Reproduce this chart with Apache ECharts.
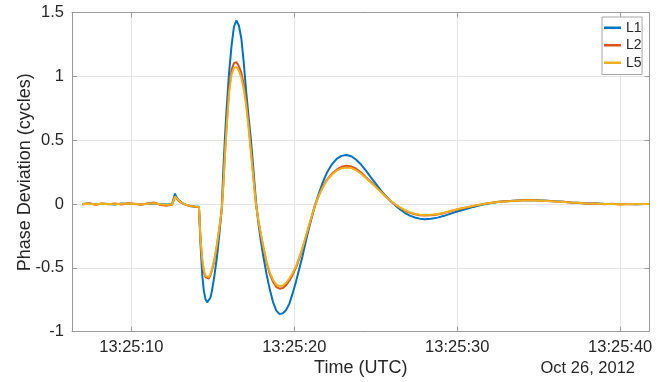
<!DOCTYPE html>
<html>
<head>
<meta charset="utf-8">
<script src="https://cdn.jsdelivr.net/npm/echarts@6/dist/echarts.min.js"></script>
<style>
  html, body { margin: 0; padding: 0; background: #fff; }
  #chart { width: 665px; height: 382px; }
</style>
</head>
<body>
<div id="chart"></div>
<script>
// Seconds after 13:25:00 UTC
const times = [
  7.0, 7.4, 7.8, 8.2, 8.6, 9.0, 9.4, 9.8, 10.2, 10.6, 11.0, 11.4, 11.8, 12.2, 12.5,
  12.62, 12.68, 12.75, 12.9, 13.1, 13.35, 13.6, 13.9, 14.15,
  14.25, 14.35, 14.45, 14.55, 14.65, 14.75, 14.85, 14.95, 15.1, 15.25, 15.4, 15.55,
  15.65, 15.75, 15.85, 16.0, 16.15, 16.3, 16.45, 16.6, 16.75, 16.9, 17.05, 17.2,
  17.35, 17.5, 17.65, 17.8, 17.95, 18.1, 18.3, 18.5, 18.7, 18.9, 19.1, 19.3, 19.5,
  19.7, 19.9, 20.1, 20.3, 20.5, 20.75, 21.0, 21.25, 21.5, 21.75, 22.0, 22.3, 22.6,
  22.9, 23.2, 23.5, 23.8, 24.1, 24.4, 24.7, 25.0, 25.3, 25.6, 25.9, 26.2, 26.5,
  26.8, 27.1, 27.4, 27.7, 28.0, 28.4, 28.8, 29.2, 29.6, 30.0, 30.5, 31.0, 31.5,
  32.0, 32.5, 33.0, 33.5, 34.0, 34.5, 35.0, 35.5, 36.0, 36.5, 37.0, 37.5, 38.0,
  38.5, 39.0, 39.5, 40.0, 40.5, 41.0, 41.5, 41.8
];

// Phase deviation (cycles) per signal
const L1 = [
  0.0, 0.004, -0.002, 0.003, 0.001, -0.003, 0.004, 0.002, 0.0, -0.002, 0.003, 0.005, 0.0, -0.004, 0.0,
  -0.004, 0.082, 0.058, 0.032, 0.012, -0.005, -0.014, -0.019, -0.02,
  -0.32, -0.55, -0.68, -0.745, -0.77, -0.765, -0.735, -0.68, -0.56, -0.42, -0.24, -0.03,
  0.28, 0.53, 0.75, 1.03, 1.24, 1.39, 1.44, 1.40, 1.30, 1.11, 0.88, 0.68,
  0.49, 0.26, 0.02, -0.15, -0.29, -0.41, -0.55, -0.67, -0.77, -0.835, -0.862, -0.855, -0.83,
  -0.78, -0.70, -0.61, -0.51, -0.41, -0.27, -0.14, -0.02, 0.08, 0.17, 0.245, 0.31, 0.355,
  0.378, 0.385, 0.375, 0.348, 0.31, 0.262, 0.21, 0.16, 0.11, 0.065, 0.025, -0.01, -0.042,
  -0.07, -0.09, -0.105, -0.114, -0.118, -0.115, -0.106, -0.092, -0.075, -0.058, -0.04, -0.022, -0.006,
  0.007, 0.016, 0.022, 0.027, 0.031, 0.032, 0.03, 0.026, 0.022, 0.018, 0.013, 0.009, 0.005,
  0.004, 0.002, 0.001, 0.0, 0.001, -0.001, 0.0, 0.0
];

const L2 = [
  -0.003, 0.006, -0.006, 0.004, -0.002, 0.005, -0.004, 0.006, 0.002, -0.005, 0.004, 0.012, -0.008, -0.012, -0.006,
  -0.018, 0.055, 0.045, 0.025, 0.008, -0.006, -0.015, -0.02, -0.022,
  -0.28, -0.44, -0.53, -0.572, -0.586, -0.583, -0.56, -0.52, -0.44, -0.33, -0.19, -0.05,
  0.16, 0.40, 0.62, 0.90, 1.05, 1.105, 1.113, 1.08, 1.03, 0.94, 0.80, 0.62,
  0.41, 0.20, 0.0, -0.13, -0.24, -0.34, -0.46, -0.55, -0.61, -0.65, -0.663, -0.657, -0.635,
  -0.60, -0.555, -0.50, -0.43, -0.35, -0.24, -0.13, -0.02, 0.065, 0.135, 0.19, 0.237, 0.27,
  0.292, 0.30, 0.295, 0.277, 0.247, 0.21, 0.175, 0.138, 0.1, 0.062, 0.027, -0.004, -0.03,
  -0.052, -0.068, -0.08, -0.087, -0.09, -0.088, -0.081, -0.07, -0.056, -0.043, -0.029, -0.015, -0.002,
  0.008, 0.018, 0.022, 0.026, 0.03, 0.033, 0.028, 0.027, 0.02, 0.019, 0.012, 0.01, 0.003,
  0.005, -0.002, 0.002, -0.003, 0.001, -0.002, 0.001, 0.0
];

const L5 = [
  0.0, 0.003, -0.001, 0.002, 0.0, -0.002, 0.003, 0.002, 0.0, -0.002, 0.002, 0.006, -0.002, -0.006, -0.004,
  -0.01, 0.06, 0.048, 0.028, 0.01, -0.005, -0.014, -0.019, -0.021,
  -0.28, -0.43, -0.52, -0.562, -0.576, -0.572, -0.55, -0.51, -0.43, -0.32, -0.185, -0.045,
  0.16, 0.39, 0.60, 0.87, 1.015, 1.068, 1.075, 1.045, 0.99, 0.90, 0.77, 0.59,
  0.39, 0.19, -0.005, -0.13, -0.235, -0.33, -0.45, -0.535, -0.595, -0.632, -0.644, -0.638, -0.617,
  -0.583, -0.54, -0.487, -0.42, -0.345, -0.235, -0.125, -0.018, 0.065, 0.132, 0.185, 0.23, 0.262,
  0.28, 0.286, 0.282, 0.265, 0.238, 0.205, 0.17, 0.134, 0.097, 0.06, 0.026, -0.003, -0.028,
  -0.048, -0.064, -0.076, -0.083, -0.086, -0.084, -0.078, -0.067, -0.054, -0.041, -0.027, -0.014, -0.002,
  0.008, 0.016, 0.021, 0.025, 0.028, 0.03, 0.028, 0.025, 0.021, 0.017, 0.012, 0.009, 0.005,
  0.003, 0.001, 0.001, -0.001, 0.0, 0.0, 0.001, 0.0
];

const timeTicks = [10, 20, 30, 40];
const tickLabel = s => '13:25:' + String(s).padStart(2, '0');
const dateLabel = 'Oct 26, 2012';

const FONT = '"Liberation Sans", Arial, Helvetica, sans-serif';
const AXIS_COLOR = '#9a9a9a';
const GRID_COLOR = '#e3e3e3';
const TEXT_COLOR = '#262626';

const pairs = vals => times.map((t, i) => [t, vals[i]]);

const chart = echarts.init(document.getElementById('chart'), null, { renderer: 'canvas' });

const xBase = {
  type: 'value', min: 6.36, max: 41.8,
  axisLine: { show: true, onZero: false, lineStyle: { color: AXIS_COLOR, width: 1 } },
  axisTick: { show: true, inside: true, length: 5, customValues: timeTicks, lineStyle: { color: AXIS_COLOR } }
};
const yBase = {
  type: 'value', min: -1, max: 1.5, interval: 0.5,
  axisLine: { show: true, onZero: false, lineStyle: { color: AXIS_COLOR, width: 1 } },
  axisTick: { show: true, inside: true, length: 5, lineStyle: { color: AXIS_COLOR } }
};

chart.setOption({
  animation: false,
  backgroundColor: '#fff',
  textStyle: { fontFamily: FONT },
  grid: { left: 72, right: 15.5, top: 12.7, bottom: 50.3, containLabel: false, outerBoundsMode: 'none' },
  xAxis: [
    Object.assign({}, xBase, {
      position: 'bottom',
      name: 'Time (UTC)', nameLocation: 'middle', nameGap: 27, nameMoveOverlap: false,
      nameTextStyle: { fontSize: 18, color: TEXT_COLOR, fontFamily: FONT },
      axisLabel: { show: true, customValues: timeTicks, formatter: tickLabel, margin: 7,
                   fontSize: 16.5, color: TEXT_COLOR, fontFamily: FONT },
      splitLine: { show: true, lineStyle: { color: GRID_COLOR, width: 1 } }
    }),
    Object.assign({}, xBase, {
      position: 'top',
      axisLabel: { show: false },
      splitLine: { show: false }
    })
  ],
  yAxis: [
    Object.assign({}, yBase, {
      position: 'left',
      name: 'Phase Deviation (cycles)', nameLocation: 'middle', nameGap: 38, nameMoveOverlap: false,
      nameTextStyle: { fontSize: 18, color: TEXT_COLOR, fontFamily: FONT },
      axisLabel: { show: true, margin: 8, fontSize: 16.5, color: TEXT_COLOR, fontFamily: FONT },
      splitLine: { show: true, lineStyle: { color: GRID_COLOR, width: 1 } }
    }),
    Object.assign({}, yBase, {
      position: 'right',
      axisLabel: { show: false },
      splitLine: { show: false }
    })
  ],
  legend: {
    data: ['L1', 'L2', 'L5'],
    orient: 'vertical',
    left: 602, top: 17,
    icon: 'rect',
    itemWidth: 17, itemHeight: 2.5,
    itemGap: 0,
    padding: [2, 0.5, 3, 2],
    borderColor: '#a6a6a6', borderWidth: 1, borderRadius: 0,
    backgroundColor: '#fff',
    textStyle: { fontSize: 14, lineHeight: 17.5, color: TEXT_COLOR, fontFamily: FONT }
  },
  graphic: [{
    type: 'text', x: 635, y: 368,
    style: { text: dateLabel, align: 'right', verticalAlign: 'middle',
             font: '16.5px ' + FONT, fill: TEXT_COLOR }
  }],
  series: [
    { name: 'L1', type: 'line', data: pairs(L1), showSymbol: false, symbol: 'none',
      color: '#0072BD', lineStyle: { width: 2, color: '#0072BD' } },
    { name: 'L2', type: 'line', data: pairs(L2), showSymbol: false, symbol: 'none',
      color: '#D95319', lineStyle: { width: 2, color: '#D95319' } },
    { name: 'L5', type: 'line', data: pairs(L5), showSymbol: false, symbol: 'none',
      color: '#EDB120', lineStyle: { width: 2, color: '#EDB120' } }
  ]
});
</script>
</body>
</html>
